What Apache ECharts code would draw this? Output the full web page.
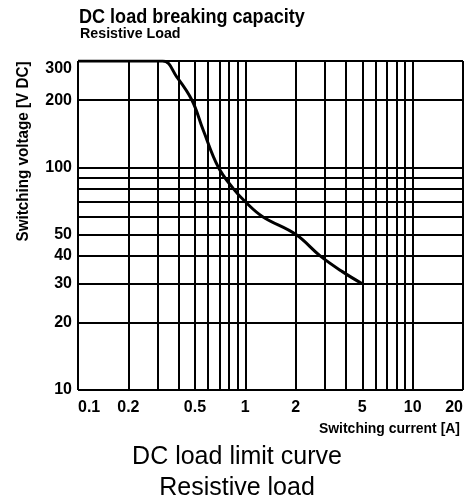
<!DOCTYPE html>
<html>
<head>
<meta charset="utf-8">
<script src="https://cdn.jsdelivr.net/npm/echarts@6/dist/echarts.min.js"></script>
<style>
html,body{margin:0;padding:0;background:#fff;}
#c{width:468px;height:502px;}
</style>
</head>
<body>
<div id="c"></div>
<script>
// Tick labels
const xTickLabels = [0.1, 0.2, 0.5, 1, 2, 5, 10, 20];
const yTickLabels = [10, 20, 30, 40, 50, 100, 200, 300];
// Grid lines
const xGridLines = [0.1, 0.2, 0.3, 0.4, 0.5, 0.6, 0.7, 0.8, 0.9, 1, 2, 3, 4, 5, 6, 7, 8, 9, 10, 20];
const yGridLines = [10, 20, 30, 40, 50, 60, 70, 80, 90, 100, 200, 300];
// DC load limit curve (resistive load)
const current = [0.1, 0.32, 0.39, 0.48, 0.56, 0.69, 0.85, 1.0, 1.27, 2.0, 2.8, 3.8, 5];
const voltage = [300, 300, 254, 200, 147, 100, 80, 70, 60, 50, 40, 34, 30];

const sans = '"Liberation Sans", Arial, sans-serif';
const chart = echarts.init(document.getElementById('c'), null, {renderer: 'canvas'});

const curveData = current.map((x, i) => [x, voltage[i]]);
const markData = xGridLines.map(v => ({xAxis: v})).concat(yGridLines.map(v => ({yAxis: v})));

chart.setOption({
  animation: false,
  backgroundColor: '#fff',
  grid: {left: 78, right: 5, top: 61, bottom: 112, containLabel: false},
  xAxis: {
    type: 'log', logBase: 10, min: 0.1, max: 20,
    axisLine: {show: false}, axisTick: {show: false},
    splitLine: {show: false}, minorSplitLine: {show: false},
    axisLabel: {
      customValues: xTickLabels,
      formatter: v => String(v),
      margin: 10, color: '#000', fontFamily: sans, fontWeight: 'bold', fontSize: 16,
      alignMinLabel: 'left', alignMaxLabel: 'right'
    }
  },
  yAxis: {
    type: 'log', logBase: 10, min: 10, max: 300,
    axisLine: {show: false}, axisTick: {show: false},
    splitLine: {show: false}, minorSplitLine: {show: false},
    axisLabel: {
      customValues: yTickLabels,
      formatter: v => String(v),
      margin: 6, color: '#000', fontFamily: sans, fontWeight: 'bold', fontSize: 16,
      verticalAlignMaxLabel: 'top'
    }
  },
  series: [{
    type: 'line',
    data: curveData,
    symbol: 'none',
    smooth: 0.4,
    lineStyle: {color: '#000', width: 3},
    silent: true,
    z: 5,
    markLine: {
      silent: true,
      animation: false,
      symbol: ['none', 'none'],
      label: {show: false},
      lineStyle: {color: '#000', width: 2, type: 'solid'},
      emphasis: {disabled: true},
      data: markData
    }
  }],
  graphic: [
    {type: 'text', x: 79, y: 17, scaleX: 0.86, style: {text: 'DC load breaking capacity', font: 'bold 21px ' + sans, fill: '#000', align: 'left', verticalAlign: 'middle'}},
    {type: 'text', x: 80, y: 34, scaleX: 0.95, style: {text: 'Resistive Load', font: 'bold 15px ' + sans, fill: '#000', align: 'left', verticalAlign: 'middle'}},
    {type: 'text', x: 24, y: 151.5, rotation: Math.PI / 2, scaleX: 0.95, style: {text: 'Switching voltage [V DC]', font: 'bold 16px ' + sans, fill: '#000', align: 'center', verticalAlign: 'middle'}},
    {type: 'text', x: 460, y: 429, scaleX: 0.93, style: {text: 'Switching current [A]', font: 'bold 15px ' + sans, fill: '#000', align: 'right', verticalAlign: 'middle'}},
    {type: 'text', x: 237, y: 457, style: {text: 'DC load limit curve', font: '25px ' + sans, fill: '#000', align: 'center', verticalAlign: 'middle'}},
    {type: 'text', x: 237, y: 488, style: {text: 'Resistive load', font: '25px ' + sans, fill: '#000', align: 'center', verticalAlign: 'middle'}}
  ]
});
</script>
</body>
</html>
